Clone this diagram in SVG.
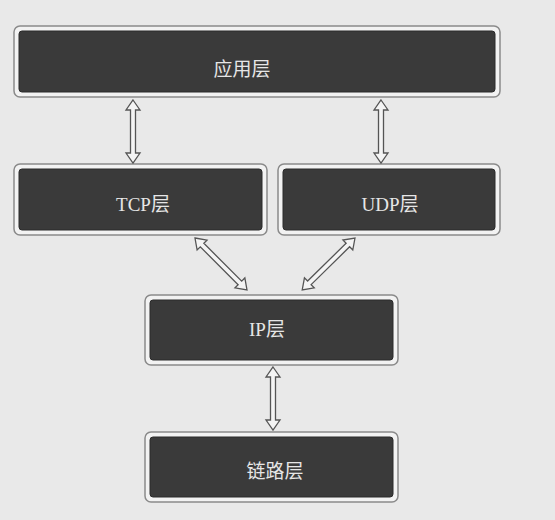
<svg xmlns="http://www.w3.org/2000/svg" width="555" height="520" viewBox="0 0 555 520">
<style>
.outer{fill:#f2f2f2;stroke:#8a8a8a;stroke-width:1.5}
.inner{fill:#3a3a3a;stroke:#2a2a2a;stroke-width:1}
.lbl{font-family:"Liberation Serif","Noto Sans CJK SC",serif;font-size:19px;fill:#e6e6e6;text-anchor:middle;dominant-baseline:central}
.arr{fill:#f4f4f4;stroke:#555;stroke-width:1.3;stroke-linejoin:miter}
</style>
<rect width="555" height="520" fill="#e9e9e9"/>
<g id="app">
<rect class="outer" x="14" y="26" width="486" height="71" rx="6"/>
<rect class="inner" x="19" y="31" width="476" height="61" rx="3"/>
<text class="lbl" x="242" y="69">应用层</text>
</g>
<g id="tcp">
<rect class="outer" x="14" y="164" width="253" height="71" rx="6"/>
<rect class="inner" x="19" y="169" width="243" height="61" rx="3"/>
<text class="lbl" x="143" y="204">TCP层</text>
</g>
<g id="udp">
<rect class="outer" x="278" y="164" width="222" height="71" rx="6"/>
<rect class="inner" x="283" y="169" width="212" height="61" rx="3"/>
<text class="lbl" x="390" y="204">UDP层</text>
</g>
<g id="ip">
<rect class="outer" x="145" y="295" width="253" height="70" rx="6"/>
<rect class="inner" x="150" y="300" width="243" height="60" rx="3"/>
<text class="lbl" x="267" y="329">IP层</text>
</g>
<g id="link">
<rect class="outer" x="145" y="432" width="253" height="70" rx="6"/>
<rect class="inner" x="150" y="437" width="243" height="60" rx="3"/>
<text class="lbl" x="275" y="471">链路层</text>
</g>
<g id="connectors">
<path class="arr" transform="translate(133,100) rotate(90)" d="M0,0 L10,-7 L10,-2.5 L53,-2.5 L53,-7 L63,0 L53,7 L53,2.5 L10,2.5 L10,7 Z"/>
<path class="arr" transform="translate(381,100) rotate(90)" d="M0,0 L10,-7 L10,-2.5 L53,-2.5 L53,-7 L63,0 L53,7 L53,2.5 L10,2.5 L10,7 Z"/>
<path class="arr" transform="translate(195,238) rotate(45)" d="M0,0 L10,-7 L10,-2.5 L63.5,-2.5 L63.5,-7 L73.5,0 L63.5,7 L63.5,2.5 L10,2.5 L10,7 Z"/>
<path class="arr" transform="translate(355,238) rotate(135.5)" d="M0,0 L10,-7 L10,-2.5 L64,-2.5 L64,-7 L74,0 L64,7 L64,2.5 L10,2.5 L10,7 Z"/>
<path class="arr" transform="translate(273,367) rotate(90)" d="M0,0 L10,-7 L10,-2.5 L53,-2.5 L53,-7 L63,0 L53,7 L53,2.5 L10,2.5 L10,7 Z"/>
</g>
</svg>
